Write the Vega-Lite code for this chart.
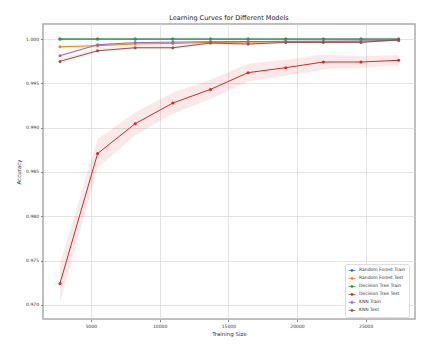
{
  "$schema": "https://vega.github.io/schema/vega-lite/v6.json",
  "width": 372,
  "height": 295,
  "autosize": {"type": "none"},
  "padding": {"left": 43, "top": 24, "right": 18, "bottom": 33},
  "background": "white",
  "title": {"text": "Learning Curves for Different Models", "fontSize": 6.5, "font": "DejaVu Sans", "fontWeight": "normal", "color": "#222", "offset": 3},
  "config": {
    "font": "DejaVu Sans",
    "view": {"stroke": "#aaa", "strokeWidth": 1.5},
    "axis": {"labelFont": "DejaVu Sans", "titleFont": "DejaVu Sans", "labelFontSize": 4.5, "titleFontSize": 5.5, "titleFontWeight": "normal", "labelColor": "#333", "titleColor": "#333", "gridColor": "#ddd", "gridWidth": 0.8, "tickColor": "#888", "tickSize": 2.5, "domain": false}
  },
  "data": {"values": [
    {"model": "Random Forest Train", "size": 2740, "mean": 1.0, "lo": 1.0, "hi": 1.0},
    {"model": "Random Forest Train", "size": 5480, "mean": 1.0, "lo": 1.0, "hi": 1.0},
    {"model": "Random Forest Train", "size": 8220, "mean": 1.0, "lo": 1.0, "hi": 1.0},
    {"model": "Random Forest Train", "size": 10960, "mean": 1.0, "lo": 1.0, "hi": 1.0},
    {"model": "Random Forest Train", "size": 13700, "mean": 1.0, "lo": 1.0, "hi": 1.0},
    {"model": "Random Forest Train", "size": 16440, "mean": 1.0, "lo": 1.0, "hi": 1.0},
    {"model": "Random Forest Train", "size": 19180, "mean": 1.0, "lo": 1.0, "hi": 1.0},
    {"model": "Random Forest Train", "size": 21920, "mean": 1.0, "lo": 1.0, "hi": 1.0},
    {"model": "Random Forest Train", "size": 24660, "mean": 1.0, "lo": 1.0, "hi": 1.0},
    {"model": "Random Forest Train", "size": 27400, "mean": 1.0, "lo": 1.0, "hi": 1.0},
    {"model": "Random Forest Test", "size": 2740, "mean": 0.99913, "lo": 0.99895, "hi": 0.99931},
    {"model": "Random Forest Test", "size": 5480, "mean": 0.99925, "lo": 0.99905, "hi": 0.99945},
    {"model": "Random Forest Test", "size": 8220, "mean": 0.99945, "lo": 0.99928, "hi": 0.99962},
    {"model": "Random Forest Test", "size": 10960, "mean": 0.99950, "lo": 0.99935, "hi": 0.99965},
    {"model": "Random Forest Test", "size": 13700, "mean": 0.99962, "lo": 0.99948, "hi": 0.99976},
    {"model": "Random Forest Test", "size": 16440, "mean": 0.99965, "lo": 0.99952, "hi": 0.99978},
    {"model": "Random Forest Test", "size": 19180, "mean": 0.99970, "lo": 0.99958, "hi": 0.99982},
    {"model": "Random Forest Test", "size": 21920, "mean": 0.99972, "lo": 0.99962, "hi": 0.99982},
    {"model": "Random Forest Test", "size": 24660, "mean": 0.99975, "lo": 0.99966, "hi": 0.99984},
    {"model": "Random Forest Test", "size": 27400, "mean": 0.99985, "lo": 0.99978, "hi": 0.99992},
    {"model": "Decision Tree Train", "size": 2740, "mean": 1.0, "lo": 1.0, "hi": 1.0},
    {"model": "Decision Tree Train", "size": 5480, "mean": 1.0, "lo": 1.0, "hi": 1.0},
    {"model": "Decision Tree Train", "size": 8220, "mean": 1.0, "lo": 1.0, "hi": 1.0},
    {"model": "Decision Tree Train", "size": 10960, "mean": 1.0, "lo": 1.0, "hi": 1.0},
    {"model": "Decision Tree Train", "size": 13700, "mean": 1.0, "lo": 1.0, "hi": 1.0},
    {"model": "Decision Tree Train", "size": 16440, "mean": 1.0, "lo": 1.0, "hi": 1.0},
    {"model": "Decision Tree Train", "size": 19180, "mean": 1.0, "lo": 1.0, "hi": 1.0},
    {"model": "Decision Tree Train", "size": 21920, "mean": 1.0, "lo": 1.0, "hi": 1.0},
    {"model": "Decision Tree Train", "size": 24660, "mean": 1.0, "lo": 1.0, "hi": 1.0},
    {"model": "Decision Tree Train", "size": 27400, "mean": 1.0, "lo": 1.0, "hi": 1.0},
    {"model": "Decision Tree Test", "size": 2740, "mean": 0.9724, "lo": 0.9702, "hi": 0.9746},
    {"model": "Decision Tree Test", "size": 5480, "mean": 0.98707, "lo": 0.98545, "hi": 0.98869},
    {"model": "Decision Tree Test", "size": 8220, "mean": 0.99045, "lo": 0.98915, "hi": 0.99175},
    {"model": "Decision Tree Test", "size": 10960, "mean": 0.99278, "lo": 0.99158, "hi": 0.99398},
    {"model": "Decision Tree Test", "size": 13700, "mean": 0.99432, "lo": 0.99322, "hi": 0.99542},
    {"model": "Decision Tree Test", "size": 16440, "mean": 0.99621, "lo": 0.99521, "hi": 0.99721},
    {"model": "Decision Tree Test", "size": 19180, "mean": 0.99677, "lo": 0.99587, "hi": 0.99767},
    {"model": "Decision Tree Test", "size": 21920, "mean": 0.99741, "lo": 0.99656, "hi": 0.99826},
    {"model": "Decision Tree Test", "size": 24660, "mean": 0.99741, "lo": 0.99676, "hi": 0.99806},
    {"model": "Decision Tree Test", "size": 27400, "mean": 0.9976, "lo": 0.9970, "hi": 0.9982},
    {"model": "KNN Train", "size": 2740, "mean": 0.99812, "lo": 0.99795, "hi": 0.99829},
    {"model": "KNN Train", "size": 5480, "mean": 0.99936, "lo": 0.99926, "hi": 0.99946},
    {"model": "KNN Train", "size": 8220, "mean": 0.99960, "lo": 0.99953, "hi": 0.99967},
    {"model": "KNN Train", "size": 10960, "mean": 0.99965, "lo": 0.99959, "hi": 0.99971},
    {"model": "KNN Train", "size": 13700, "mean": 0.99970, "lo": 0.99965, "hi": 0.99975},
    {"model": "KNN Train", "size": 16440, "mean": 0.99972, "lo": 0.99967, "hi": 0.99977},
    {"model": "KNN Train", "size": 19180, "mean": 0.99975, "lo": 0.99971, "hi": 0.99979},
    {"model": "KNN Train", "size": 21920, "mean": 0.99976, "lo": 0.99972, "hi": 0.99980},
    {"model": "KNN Train", "size": 24660, "mean": 0.99978, "lo": 0.99975, "hi": 0.99981},
    {"model": "KNN Train", "size": 27400, "mean": 0.99985, "lo": 0.99982, "hi": 0.99988},
    {"model": "KNN Test", "size": 2740, "mean": 0.99748, "lo": 0.99718, "hi": 0.99778},
    {"model": "KNN Test", "size": 5480, "mean": 0.99868, "lo": 0.99843, "hi": 0.99893},
    {"model": "KNN Test", "size": 8220, "mean": 0.99902, "lo": 0.99882, "hi": 0.99922},
    {"model": "KNN Test", "size": 10960, "mean": 0.99902, "lo": 0.99882, "hi": 0.99922},
    {"model": "KNN Test", "size": 13700, "mean": 0.99955, "lo": 0.99940, "hi": 0.99970},
    {"model": "KNN Test", "size": 16440, "mean": 0.99944, "lo": 0.99929, "hi": 0.99959},
    {"model": "KNN Test", "size": 19180, "mean": 0.99962, "lo": 0.99949, "hi": 0.99975},
    {"model": "KNN Test", "size": 21920, "mean": 0.99962, "lo": 0.99950, "hi": 0.99974},
    {"model": "KNN Test", "size": 24660, "mean": 0.99962, "lo": 0.99951, "hi": 0.99973},
    {"model": "KNN Test", "size": 27400, "mean": 0.99992, "lo": 0.99984, "hi": 1.0}
  ]},
  "encoding": {
    "x": {"field": "size", "type": "quantitative", "title": "Training Size",
      "scale": {"domain": [1507, 28590], "nice": false, "zero": false},
      "axis": {"values": [5000, 10000, 15000, 20000, 25000], "format": "d", "titlePadding": 3, "labelPadding": 2}},
    "color": {"field": "model", "type": "nominal",
      "scale": {"domain": ["Random Forest Train", "Random Forest Test", "Decision Tree Train", "Decision Tree Test", "KNN Train", "KNN Test"],
        "range": ["#1f77b4", "#ff7f0e", "#2ca02c", "#d62728", "#9467bd", "#8c564b"]},
      "legend": {"orient": "none", "legendX": 302, "legendY": 240, "title": null,
        "labelFontSize": 4.5, "labelColor": "#333", "symbolSize": 45, "symbolOpacity": 1, "symbolStrokeWidth": 0.8,
        "symbolType": "M-1,0L1,0M0.3,0A0.3,0.3 0 1 1 -0.3,0A0.3,0.3 0 1 1 0.3,0Z",
        "rowPadding": 1, "clipHeight": 6.8, "padding": 3, "fillColor": "white", "strokeColor": "#ddd", "cornerRadius": 2,
        "labelOffset": 3}}
  },
  "layer": [
    {"mark": {"type": "area", "opacity": 0.1},
     "encoding": {
       "y": {"field": "lo", "type": "quantitative", "title": "Accuracy",
         "scale": {"domain": [0.9684, 1.0017], "nice": false, "zero": false},
         "axis": {"values": [0.970, 0.975, 0.980, 0.985, 0.990, 0.995, 1.000], "format": ".3f", "titlePadding": 4, "labelPadding": 2}},
       "y2": {"field": "hi"}
     }},
    {"mark": {"type": "line", "strokeWidth": 1},
     "encoding": {"y": {"field": "mean", "type": "quantitative"}}},
    {"mark": {"type": "point", "filled": true, "size": 9, "opacity": 1},
     "encoding": {"y": {"field": "mean", "type": "quantitative"}}}
  ]
}
